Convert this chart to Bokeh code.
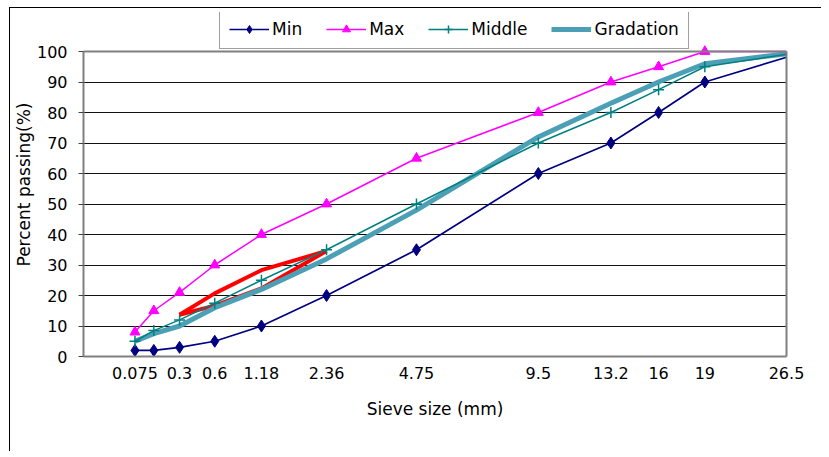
import numpy as np
from bokeh.plotting import figure
from bokeh.models import FixedTicker, Legend, LegendItem, Range1d, LinearAxis, Span
from bokeh.embed import file_html
from bokeh.resources import INLINE

# ---- data ----
sieves = [0.075, 0.15, 0.3, 0.6, 1.18, 2.36, 4.75, 9.5, 13.2, 16, 19, 26.5]
min_pass = [2, 2, 3, 5, 10, 20, 35, 60, 70, 80, 90, 100]
max_pass = [8, 15, 21, 30, 40, 50, 65, 80, 90, 95, 100, 100]
middle_pass = [5, 8.5, 12, 17.5, 25, 35, 50, 70, 80, 87.5, 95, 100]
gradation_pass = [5, 7.5, 10, 16, 22, 32, 48, 72, 83, 90, 96, 100]

rz_sieves = [0.3, 0.6, 1.18, 2.36]
rz_lower = [13.7, 16.7, 22.3, 34.6]
rz_upper = [13.7, 20.7, 28.3, 34.6]

tick_sizes = [0.075, 0.3, 0.6, 1.18, 2.36, 4.75, 9.5, 13.2, 16, 19, 26.5]
tick_labels = ["0.075", "0.3", "0.6", "1.18", "2.36", "4.75", "9.5", "13.2", "16", "19", "26.5"]
y_ticks = [0, 10, 20, 30, 40, 50, 60, 70, 80, 90, 100]

POWER = 0.45
X_MAX_SIZE = 25
Y_MAX = 100

FONT = "DejaVu Sans"

PLOT_H = 305      # height of the 0..100 plot area in px
LEGEND_ROOM = 39  # extra room above the plot area for the legend


def tx(v):
    return [float(s) ** POWER for s in v]


x_end = X_MAX_SIZE ** POWER
x = tx(sieves)
y_top = Y_MAX * (PLOT_H + LEGEND_ROOM) / PLOT_H

p = figure(
    output_backend="svg",
    toolbar_location=None,
    frame_width=703,
    frame_height=PLOT_H + LEGEND_ROOM,
    min_border_left=73,
    min_border_right=35,
    min_border_top=4,
    min_border_bottom=95,
    x_range=Range1d(0, x_end),
    y_range=Range1d(0, y_top),
    background_fill_color="white",
    border_fill_color="white",
)
p.styles = {
    "margin-left": "9px",
    "margin-top": "7px",
    "border-left": "1px solid black",
    "border-top": "1px solid black",
}
p.outline_line_color = None

# restricted zone (red)
p.line(tx(rz_sieves), rz_lower, line_color="#FF0000", line_width=4, line_join="round")
p.line(tx(rz_sieves), rz_upper, line_color="#FF0000", line_width=4, line_join="round")

# gradation
r_grad = p.line(x, gradation_pass, line_color="#4BA0B6", line_width=5, line_join="round")

# min
r_min_l = p.line(x, min_pass, line_color="#000080", line_width=1.7)
r_min_m = p.scatter(x, min_pass, marker="diamond", size=12, fill_color="#000080", line_color="#000080")

# max
r_max_l = p.line(x, max_pass, line_color="#FF00FF", line_width=1.5)
r_max_m = p.scatter(x, max_pass, marker="triangle", size=10, fill_color="#FF00FF", line_color="#FF00FF")

# middle
r_mid_l = p.line(x, middle_pass, line_color="#008080", line_width=1.5)
r_mid_m = p.scatter(x, middle_pass, marker="cross", size=11, line_color="#008080", line_width=1.5)

# axes
tick_pos = [min(t, x_end) for t in tx(tick_sizes)]
p.xaxis.ticker = FixedTicker(ticks=tick_pos)
p.xaxis.major_label_overrides = {t: lab for t, lab in zip(tick_pos, tick_labels)}
p.xaxis.major_tick_out = 0
p.xaxis.major_tick_in = 0
p.xaxis.minor_tick_out = 0
p.xaxis.minor_tick_in = 0
p.xaxis.major_label_standoff = 10
p.xaxis.axis_label = "Sieve size (mm)"
p.xaxis.axis_label_standoff = 17

p.yaxis.ticker = FixedTicker(ticks=y_ticks)
p.yaxis.bounds = (0, Y_MAX)
p.yaxis.major_tick_out = 5
p.yaxis.major_tick_in = 0
p.yaxis.minor_tick_out = 0
p.yaxis.minor_tick_in = 0
p.yaxis.major_label_standoff = 11
p.yaxis.axis_label = "Percent passing(%)"
p.yaxis.axis_label_standoff = 0

for ax in (p.xaxis, p.yaxis):
    ax.axis_line_color = "#808080"
    ax.axis_line_width = 2
    ax.major_tick_line_color = "#404040"
    ax.major_label_text_font = FONT
    ax.major_label_text_font_size = "16px"
    ax.major_label_text_color = "black"
    ax.axis_label_text_font = FONT
    ax.axis_label_text_font_size = "17px"
    ax.axis_label_text_font_style = "normal"
    ax.axis_label_text_color = "black"

# right border of the plot area
right_axis = LinearAxis(
    bounds=(0, Y_MAX),
    ticker=FixedTicker(ticks=[]),
    major_tick_out=0, major_tick_in=0, minor_tick_out=0, minor_tick_in=0,
    major_label_text_font_size="0px",
    axis_line_color="#808080", axis_line_width=2,
)
p.add_layout(right_axis, "right")

p.xgrid.grid_line_color = None
p.ygrid.grid_line_color = "#111111"
p.ygrid.grid_line_width = 1
p.ygrid.ticker = FixedTicker(ticks=y_ticks)

# top border of the plot area
p.add_layout(Span(location=Y_MAX, dimension="width", line_color="#808080", line_width=2))

legend = Legend(
    items=[
        LegendItem(label="Min", renderers=[r_min_l, r_min_m]),
        LegendItem(label="Max", renderers=[r_max_l, r_max_m]),
        LegendItem(label="Middle", renderers=[r_mid_l, r_mid_m]),
        LegendItem(label="Gradation", renderers=[r_grad]),
    ],
    orientation="horizontal",
    location=(136, PLOT_H + 2),
    glyph_width=40,
    label_standoff=3,
    spacing=24,
    padding=9,
    margin=0,
    label_height=19,
    label_text_font=FONT,
    label_text_font_size="17px",
    label_text_color="black",
    border_line_color="#404040",
    border_line_width=1,
    background_fill_color="white",
    background_fill_alpha=1,
)
p.add_layout(legend, "center")

open("out.html", "w").write(file_html(p, INLINE))
